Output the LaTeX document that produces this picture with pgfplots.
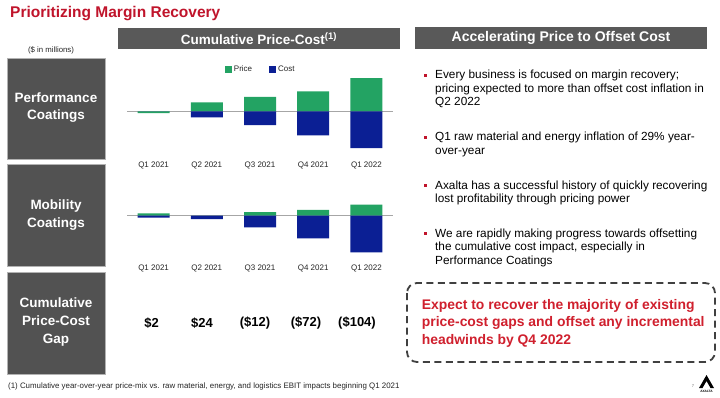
\documentclass[border=0pt]{standalone}
\usepackage{pgfplots}
\pgfplotsset{compat=1.18}
\usepackage{fontspec}
\setmainfont{Liberation Sans}
\definecolor{pgreen}{HTML}{23A363}
\definecolor{cblue}{HTML}{0B1F94}
\definecolor{titlered}{HTML}{C0142B}
\definecolor{boxred}{HTML}{D0202E}
\definecolor{boxgray}{HTML}{525252}
\definecolor{hdrgray}{HTML}{595959}
\pgfplotsset{
  slidebars/.style={
    scale only axis, width=266pt,
    xmin=-0.5, xmax=4.5,
    axis line style={draw=none},
    major tick length=0pt,
    xtick={0,1,2,3,4},
    xticklabels={Q1 2021, Q2 2021, Q3 2021, Q4 2021, Q1 2022},
    ytick=\empty,
    xticklabel style={font=\fontsize{8}{9.5}\selectfont, text=black!85},
    clip=false,
  },
  pricebar/.style={ybar, bar width=32pt, bar shift=0pt, fill=pgreen, draw=none},
  costbar/.style={ybar, bar width=32pt, bar shift=0pt, fill=cblue, draw=none},
}
\begin{document}
\begin{tikzpicture}[x=1pt,y=1pt]
\fill[white] (0,0) rectangle (720,397);
% title
\node[anchor=base west, inner sep=0, font=\fontsize{15.5}{18}\selectfont\bfseries, text=titlered] at (10,379.5) {Prioritizing Margin Recovery};
\node[font=\fontsize{7.8}{9}\selectfont, text=black!85] at (51,346.3) {(\$ in millions)};
% header boxes
\fill[hdrgray] (118,369) rectangle (400,348);
\node[text=white, font=\fontsize{13.5}{16}\selectfont\bfseries] at (259,358.5) {Cumulative Price-Cost\textsuperscript{(1)}};
\fill[hdrgray] (415,370) rectangle (707,348);
\node[text=white, font=\fontsize{14}{16}\selectfont\bfseries] at (561,359) {Accelerating Price to Offset Cost};
% left boxes
\filldraw[fill=boxgray, draw=black!30, line width=0.8pt] (7,339) rectangle (105,238);
\node[align=center, text=white, font=\fontsize{13.5}{17.7}\selectfont\bfseries] at (56,289.5) {Performance\\Coatings};
\filldraw[fill=boxgray, draw=black!30, line width=0.8pt] (7,232.7) rectangle (105,130.3);
\node[align=center, text=white, font=\fontsize{13.5}{17.7}\selectfont\bfseries] at (56,182) {Mobility\\Coatings};
\filldraw[fill=boxgray, draw=black!30, line width=0.8pt] (7,125) rectangle (105,23);
\node[align=center, text=white, font=\fontsize{13.5}{18}\selectfont\bfseries] at (56,74.5) {Cumulative\\Price-Cost\\Gap};

% Performance Coatings chart
\begin{axis}[slidebars, at={(127pt,239pt)}, anchor=south west, height=93pt,
  ymin=-167.4, ymax=167.4,
  legend style={at={(0.503,0.949)}, anchor=center, draw=none, fill=none,
    legend columns=2, font=\fontsize{8}{9.5}\selectfont, text=black!85,
    /tikz/every even column/.append style={column sep=15pt}},
  legend image code/.code={\fill[#1] (-3pt,-3.5pt) rectangle (4pt,3.5pt);},
]
\addplot[black!35, line width=0.9pt, forget plot] coordinates {(-0.5,0) (4.5,0)};
\addplot[pricebar] coordinates {(0,-6) (1,33) (2,53) (3,72) (4,120)};
\addplot[costbar] coordinates {(0,0) (1,-21) (2,-49) (3,-86) (4,-132)};
\legend{Price, Cost}
\end{axis}

% Mobility Coatings chart
\begin{axis}[slidebars, at={(127pt,136pt)}, anchor=south west, height=66pt,
  ymin=-163.1, ymax=74.5]
\addplot[black!35, line width=0.9pt, forget plot] coordinates {(-0.5,0) (4.5,0)};
\addplot[pricebar] coordinates {(0,8) (1,0) (2,13) (3,21) (4,40)};
\addplot[costbar] coordinates {(0,-7) (1,-12) (2,-42) (3,-82) (4,-132)};
\end{axis}

% cumulative gap values
\foreach \x/\t in {151.7/{\$2}, 202/{\$24}, 255/{(\$12)}, 306/{(\$72)}, 357/{(\$104)}}{
  \node[font=\fontsize{13}{15}\selectfont\bfseries] at (\x,74) {\t};
}

% bullets
\foreach \yb/\t/\b in {
  79/{Every business is focused on margin recovery;}/1,
  92.3/{pricing expected to more than offset cost inflation in}/0,
  105.7/{Q2 2022}/0,
  141/{Q1 raw material and energy inflation of 29\% year-}/1,
  154.5/{over-year}/0,
  189/{Axalta has a successful history of quickly recovering}/1,
  202.3/{lost profitability through pricing power}/0,
  237.3/{We are rapidly making progress towards offsetting}/1,
  250.7/{the cumulative cost impact, especially in}/0,
  264/{Performance Coatings}/0}{
  \node[anchor=base west, inner sep=0, font=\fontsize{11.8}{13.3}\selectfont] at (435,397-\yb) {\t};
  \ifnum\b=1 \fill[titlered] (424,397-\yb+2) rectangle (427,397-\yb+5);\fi
}

% dashed call-out box
\draw[black!75, line width=1.8pt, dash pattern=on 7pt off 4.5pt, rounded corners=10pt] (407,114) rectangle (715,35);
\foreach \yb/\t in {309.5/{Expect to recover the majority of existing}, 326.8/{price-cost gaps and offset any incremental}, 344.5/{headwinds by Q4 2022}}{
  \node[anchor=base west, inner sep=0, text=boxred, font=\fontsize{13.9}{16}\selectfont\bfseries] at (421.7,397-\yb) {\t};
}

% footnote
\node[anchor=base west, inner sep=0, font=\fontsize{7.9}{9}\selectfont, text=black!85] at (8,8.5) {(1) Cumulative year-over-year price-mix vs. raw material, energy, and logistics EBIT impacts beginning Q1 2021};
\node[font=\fontsize{4}{5}\selectfont, text=black!60] at (693,11) {7};
% logo
\fill[black] (699,9) -- (706.5,22) -- (714,9) -- (710.5,9) -- (706.5,16) -- (702.5,9) -- cycle;
\node[font=\fontsize{3.2}{4}\selectfont\bfseries, inner sep=0] at (706.5,6) {AXALTA};
\end{tikzpicture}
\end{document}
